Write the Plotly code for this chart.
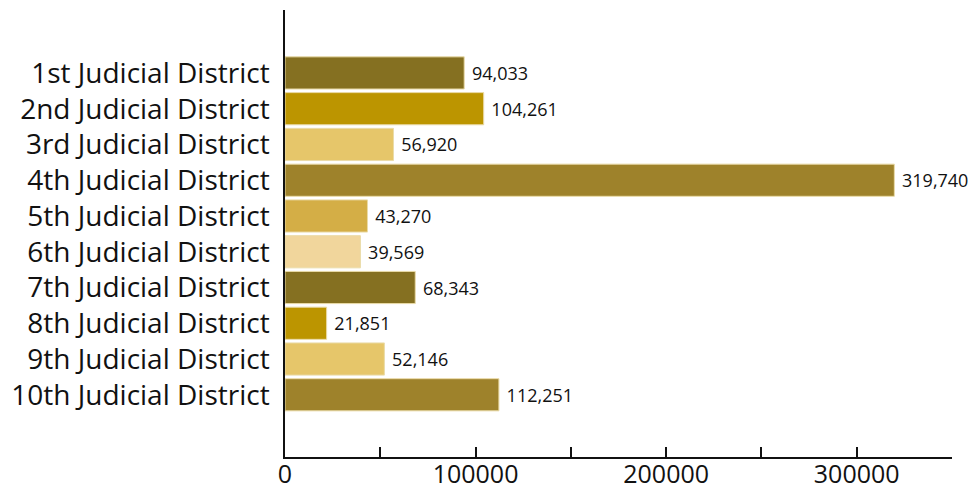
import plotly.graph_objects as go

districts = ["1st Judicial District", "2nd Judicial District", "3rd Judicial District",
             "4th Judicial District", "5th Judicial District", "6th Judicial District",
             "7th Judicial District", "8th Judicial District", "9th Judicial District",
             "10th Judicial District"]
values = [94033, 104261, 56920, 319740, 43270, 39569, 68343, 21851, 52146, 112251]
colors = ["#857021", "#BC9500", "#E6C66A", "#9E822B", "#D4AE46",
          "#F1D69C", "#857021", "#BC9500", "#E6C66A", "#9E822B"]
tick_vals = [0, 50000, 100000, 150000, 200000, 250000, 300000, 350000]
tick_text = ["0", "", "100000", "", "200000", "", "300000", ""]

FONT = "Open Sans"

fig = go.Figure(go.Bar(
    y=districts,
    x=values,
    orientation="h",
    marker=dict(color=colors, line=dict(color="#EADBA8", width=1)),
    text=["\u00a0" + f"{v:,}" for v in values],
    textposition="outside",
    textfont=dict(family=FONT, size=18, color="#111111"),
    cliponaxis=False,
    width=0.9,
))

fig.update_layout(
    width=977, height=491,
    margin=dict(l=285, r=25, t=10, b=34),
    paper_bgcolor="white", plot_bgcolor="white",
    showlegend=False,
    font=dict(family=FONT, color="#111111"),
    xaxis=dict(
        range=[0, 350000], automargin=False,
        tickvals=tick_vals, ticktext=tick_text,
        ticks="inside", ticklen=10, tickwidth=1.5, tickcolor="#111111",
        showline=True, linecolor="#111111", linewidth=1.5,
        showgrid=False, zeroline=False,
        ticklabelstandoff=-6,
        tickfont=dict(family=FONT, size=25, color="#111111"),
    ),
    yaxis=dict(
        categoryorder="array", categoryarray=districts,
        range=[9 + 1.74, -1.76], automargin=False,
        ticks="", showline=True, linecolor="#111111", linewidth=1.5,
        showgrid=False, zeroline=False,
        ticklabelstandoff=8,
        tickfont=dict(family=FONT, size=28, color="#111111"),
    ),
)

fig.write_html("out.html", config={"displayModeBar": False},
               post_script="document.body.style.margin='0';")
